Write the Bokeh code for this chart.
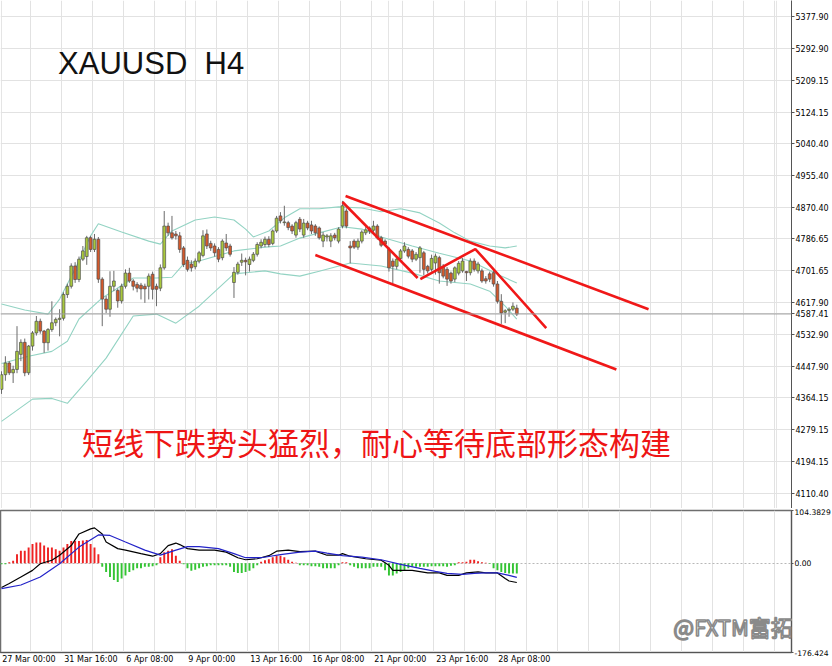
from bokeh.plotting import figure
from bokeh.models import Range1d, FixedTicker, Span, Label, Grid, ColumnDataSource
from bokeh.layouts import column
from bokeh.embed import file_html
from bokeh.resources import INLINE
from bokeh.core.properties import value

# ---------------- data (H4 bars, index 0 = 27 Mar 00:00) ----------------
opens = [4387,4426,4457,4431,4440,4480,4512,4431,4502,4537,
         4568,4542,4511,4546,4564,4573,4576,4639,4661,4715,
         4679,4733,4740,4790,4759,4786,4680,4627,4600,4661,
         4650,4622,4661,4696,4675,4666,4664,4661,4661,4693,
         4661,4656,4710,4821,4803,4800,4795,4763,4730,4720,
         4713,4728,4743,4800,4775,4768,4759,4737,4776,4768,
         4671,4698,4725,4730,4719,4730,4746,4768,4772,4786,
         4775,4808,4848,4830,4830,4821,4797,4839,4797,4829,
         4824,4821,4816,4781,4792,4781,4797,4781,4821,4861,
         4768,4781,4765,4781,4803,4816,4810,4821,4790,4781,
         4759,4728,4714,4735,4755,4759,4755,4733,4737,4750,
         4714,4706,4723,4737,4714,4706,4696,4680,4696,4702,
         4700,4697,4728,4702,4702,4681,4694,4697,4667,4621,
         4592,4597,4600,4603]
highs = [4435,4475,4462,4450,4555,4520,4522,4505,4542,4582,
         4575,4545,4550,4621,4578,4600,4645,4668,4722,4725,
         4740,4768,4795,4795,4800,4792,4685,4635,4701,4702,
         4655,4668,4706,4710,4680,4672,4670,4668,4695,4700,
         4668,4719,4861,4830,4848,4808,4805,4768,4740,4730,
         4735,4755,4810,4812,4782,4775,4765,4786,4800,4774,
         4712,4726,4748,4737,4740,4752,4778,4786,4793,4794,
         4812,4848,4858,4875,4835,4826,4835,4845,4840,4835,
         4835,4826,4820,4805,4800,4802,4803,4818,4888,4868,
         4781,4786,4788,4810,4818,4820,4835,4826,4795,4786,
         4765,4735,4740,4760,4778,4765,4760,4752,4768,4755,
         4718,4745,4748,4742,4720,4712,4700,4714,4728,4736,
         4702,4735,4735,4726,4708,4688,4700,4703,4675,4640,
         4600,4605,4618,4612]
lows = [4375,4410,4425,4404,4430,4462,4422,4425,4490,4530,
        4535,4484,4490,4540,4555,4528,4570,4630,4655,4670,
        4672,4728,4718,4752,4752,4670,4555,4590,4580,4648,
        4604,4615,4655,4670,4650,4645,4626,4617,4626,4626,
        4608,4648,4705,4795,4785,4785,4750,4712,4700,4700,
        4706,4722,4738,4760,4755,4740,4725,4730,4755,4740,
        4630,4692,4715,4690,4700,4725,4740,4762,4765,4765,
        4770,4803,4828,4822,4810,4800,4790,4805,4790,4810,
        4800,4795,4785,4765,4780,4765,4783,4775,4815,4815,
        4722,4760,4758,4775,4797,4800,4805,4785,4765,4768,
        4700,4669,4706,4730,4750,4735,4725,4728,4697,4690,
        4695,4700,4692,4668,4682,4662,4668,4672,4690,4697,
        4675,4690,4700,4695,4670,4668,4672,4660,4615,4561,
        4563,4580,4595,4582]
closes = [4426,4457,4431,4440,4488,4512,4431,4502,4537,4568,
          4542,4511,4546,4564,4573,4576,4639,4661,4715,4679,
          4733,4755,4790,4759,4786,4680,4627,4600,4661,4675,
          4622,4661,4696,4675,4661,4656,4654,4654,4688,4653,
          4653,4710,4821,4803,4790,4795,4759,4719,4706,4710,
          4728,4750,4795,4768,4763,4750,4733,4781,4763,4746,
          4698,4720,4730,4726,4733,4746,4772,4778,4786,4772,
          4808,4842,4835,4832,4817,4808,4830,4813,4829,4816,
          4808,4803,4790,4797,4795,4795,4790,4813,4875,4821,
          4763,4765,4781,4805,4811,4808,4821,4790,4770,4773,
          4710,4714,4733,4755,4768,4741,4733,4746,4763,4706,
          4702,4735,4741,4697,4688,4680,4675,4710,4722,4728,
          4697,4728,4706,4720,4675,4675,4680,4667,4621,4590,
          4596,4600,4608,4587]

# Bollinger bands (read at sample bars)
upper_x = [0,6,12,15,19,23,25,31,38,41,44,50,55,60,63,65,69,73,77,82,87,93,98,103,108,113,117,121,126,130,133]
upper_y = [4614,4598,4587,4627,4707,4795,4827,4805,4781,4773,4808,4837,4845,4837,4813,4792,4808,4843,4867,4867,
           4872,4869,4859,4867,4856,4829,4803,4781,4768,4763,4768]
middle_x = [0,7,13,17,20,26,34,40,44,47,51,60,68,72,77,82,88,93,98,106,113,121,129,133]
middle_y = [4456,4475,4488,4515,4574,4630,4683,4683,4685,4720,4728,4755,4765,4768,4789,4803,4819,4813,4792,4768,
            4749,4728,4688,4670]
lower_x = [0,8,13,17,22,27,34,40,45,51,60,68,72,77,82,90,98,106,113,121,126,130,133]
lower_y = [4302,4361,4363,4350,4409,4470,4582,4587,4563,4608,4694,4702,4694,4688,4701,4723,4715,4696,4675,4667,
           4648,4608,4574]

# MACD
hist = ([-2,-2,2,5,18,25,25,31,38,41,41,35,31,31,28,25,31,38,44,44,44,45,46,38,31,18]
        + [-7,-17,-27,-33,-37,-30,-24,-17,-14,-10,-10,-7,-7,-6,-4]
        + [12,22,25,28,15,5]
        + [-2,-10,-15,-13,-10,-7,-6,-4,-4,-4,-4,-4,-7,-17,-19,-19,-17,-15,-10,-4]
        + [3,6,8,12,15,15,12,7,3,1]
        + [-4]
        + [-4,-4,-6,-6,-7,-10,-10,-10,-10,-4]
        + [2,2]
        + [-4,-7,-10,-10,-10,-10,-7,-7,-7,-14]
        + [-24,-24,-20,-17,-14,-10,-7,-7,-7,-7,-7,-6,-6,-6,-6,-7,-5,-4]
        + [2,2,3,7,7,4,2,1,-1]
        + [-10,-14,-17,-19,-20,-20,-20])
macd_x = [0,2,5,8,10,13,15,18,20,23,24,26,27,30,32,36,39,41,43,45,46,48,51,55,58,61,63,66,69,71,74,77,81,84,87,
          88,90,94,98,100,101,103,106,110,113,115,118,120,123,125,128,130,131,133]
macd_y = [-48,-40,-27,-14,-1,6,16,35,58,68,70,58,42,29,26,19,14,19,35,40,37,29,26,26,22,11,7,9,15,24,26,23,24,16,16,
          19,14,9,6,-4,-14,-14,-14,-19,-19,-24,-24,-19,-17,-19,-19,-30,-35,-38]
signal_x = [0,5,10,15,20,25,28,32,37,41,45,48,51,56,60,63,67,72,77,81,84,88,93,98,103,108,112,115,119,122,125,128,131,133]
signal_y = [-50,-43,-27,-1,32,56,55,42,26,16,26,33,33,29,19,11,11,17,22,24,20,15,12,7,-2,-10,-16,-20,-22,-20,-19,-19,-24,-28]

# hand-drawn trend lines (bar index, price)
chan_upper_x = [88.8, 167.0]
chan_upper_y = [4901, 4600]
chan_lower_x = [81.0, 158.7]
chan_lower_y = [4744, 4440]
zig1_x = [88.0, 107.4]
zig1_y = [4885, 4683]
zig2_x = [108.1, 122.3, 140.6]
zig2_y = [4680, 4760, 4550]

price_ticks = [5377.90, 5292.90, 5209.15, 5124.15, 5040.40, 4955.40, 4870.40, 4786.65, 4701.65,
               4617.90, 4532.90, 4447.90, 4364.15, 4279.15, 4194.15, 4110.40]
last_price = 4587.41
macd_ticks = [104.3829, 0.0, -176.424]
macd_tick_labels = ["104.3829", "0.00", "-176.424"]
date_ticks = [0, 16, 32, 48, 64, 80, 96, 112, 128]
date_labels = ["27 Mar 00:00", "31 Mar 16:00", "6 Apr 08:00", "9 Apr 00:00", "13 Apr 16:00",
               "16 Apr 08:00", "21 Apr 00:00", "23 Apr 16:00", "28 Apr 08:00"]

# ---------------- layout constants ----------------
FW = 791
RB = 41
X0, X1 = -0.26, 203.9
PPB = FW / (X1 - X0)          # pixels per bar
GRID = "#e2e2e2"
AXC = "#555555"
TICKFONT = "DejaVu Sans"
TFS = 8

grid_ticks = [k * 8 - 0.5 for k in range(1, 27)]

# MT4 draws time labels starting at the bar; Bokeh centres them, so shift by half the text width
_CW = {"0": .636, "1": .636, "2": .636, "3": .636, "4": .636, "5": .636, "6": .636, "7": .636, "8": .636,
       "9": .636, " ": .318, ":": .337, "M": .863, "a": .613, "r": .411, "A": .684, "p": .635}
def _half_w_bars(s):
    return sum(_CW.get(ch, .6) for ch in s) * TFS / 2 / PPB
date_tick_pos = [round(b + _half_w_bars(s) + 0.2, 3) for b, s in zip(date_ticks, date_labels)]

x_range = Range1d(X0, X1)

p = figure(frame_width=FW, frame_height=508, x_range=x_range, y_range=Range1d(4070.4, 5420.5),
           output_backend="svg", toolbar_location=None, x_axis_location=None, y_axis_location="right",
           min_border_left=0, min_border_top=0, min_border_bottom=0, min_border_right=RB)
p.outline_line_color = None
axis_ticks = price_ticks + [last_price]
p.yaxis.ticker = FixedTicker(ticks=axis_ticks)
p.yaxis.major_label_overrides = {t: f"{t:.2f}" for t in axis_ticks}
p.yaxis.major_label_text_font = TICKFONT
p.yaxis.major_label_text_font_size = f"{TFS}px"
p.yaxis.major_label_text_color = "#000000"
p.yaxis.axis_line_color = AXC
p.yaxis.major_tick_line_color = AXC
p.yaxis.major_tick_out = 3
p.yaxis.major_tick_in = 0
p.yaxis.minor_tick_line_color = None
p.yaxis.major_label_standoff = 1
p.ygrid.grid_line_color = GRID
p.add_layout(Grid(dimension=0, ticker=FixedTicker(ticks=grid_ticks), grid_line_color=GRID))

# Bollinger bands
BB = "#93d3c3"
p.line(upper_x, upper_y, line_color=BB, line_width=1.1)
p.line(middle_x, middle_y, line_color=BB, line_width=1.1)
p.line(lower_x, lower_y, line_color=BB, line_width=1.1)

# current price line
p.add_layout(Span(location=last_price, dimension="width", line_color="#a0a0a0", line_width=1))

# candles
idx = list(range(len(opens)))
src = ColumnDataSource(dict(
    x=idx, o=opens, h=highs, l=lows, c=closes,
    top=[max(o, c) for o, c in zip(opens, closes)],
    bot=[min(o, c) for o, c in zip(opens, closes)],
    fill=["#a9c83c" if c >= o else "#d4592b" for o, c in zip(opens, closes)],
))
p.segment(x0="x", y0="h", x1="x", y1="l", source=src, line_color="#6a6a6a", line_width=1)
p.vbar(x="x", width=0.72, top="top", bottom="bot", fill_color="fill", line_color="#4d4d4d",
       line_width=0.7, source=src)

# trend lines
RED = "#f01818"
p.line(chan_upper_x, chan_upper_y, line_color=RED, line_width=2.6)
p.line(chan_lower_x, chan_lower_y, line_color=RED, line_width=2.6)
p.line(zig1_x, zig1_y, line_color=RED, line_width=2.6)
p.line(zig2_x, zig2_y, line_color=RED, line_width=2.6)

# texts
p.add_layout(Label(x=14.6, y=5252, text="XAUUSD \u00a0H4", text_font="Liberation Sans", text_font_size="31px",
                   text_color="#111111", text_baseline="middle", text_align="left"))
p.add_layout(Label(x=20.8, y=4249, text="短线下跌势头猛烈，耐心等待底部形态构建", text_font="Noto Sans CJK SC",
                   text_font_size="31px", text_color="#ee1515", text_baseline="middle", text_align="left"))

# ---------------- MACD panel ----------------
m = figure(frame_width=FW, frame_height=142, x_range=x_range, y_range=Range1d(-176.424, 104.3829),
           output_backend="svg", toolbar_location=None, y_axis_location="right",
           min_border_left=0, min_border_top=2, min_border_bottom=0, min_border_right=RB)
m.outline_line_color = "#6e6e6e"
m.outline_line_width = 1.5
m.xaxis.ticker = FixedTicker(ticks=date_tick_pos)
m.xaxis.major_label_overrides = {t: s for t, s in zip(date_tick_pos, date_labels)}
m.xaxis.major_label_text_font = TICKFONT
m.xaxis.major_label_text_font_size = f"{TFS}px"
m.xaxis.major_label_text_color = "#000000"
m.xaxis.axis_line_color = AXC
m.xaxis.major_tick_line_color = None
m.xaxis.major_tick_out = 0
m.xaxis.major_tick_in = 0
m.xaxis.minor_tick_line_color = None
m.xaxis.major_label_standoff = 2
m.xgrid.ticker = FixedTicker(ticks=grid_ticks)
m.xgrid.grid_line_color = GRID
m.yaxis.ticker = FixedTicker(ticks=macd_ticks)
m.yaxis.major_label_overrides = {t: s for t, s in zip(macd_ticks, macd_tick_labels)}
m.yaxis.major_label_text_font = TICKFONT
m.yaxis.major_label_text_font_size = "7.6px"
m.yaxis.major_label_text_color = "#000000"
m.yaxis.axis_line_color = AXC
m.yaxis.major_tick_line_color = AXC
m.yaxis.major_tick_out = 2
m.yaxis.major_tick_in = 0
m.yaxis.minor_tick_line_color = None
m.yaxis.major_label_standoff = 1
m.ygrid.grid_line_color = "#b8b8b8"
m.ygrid.grid_line_dash = "2 2"

hcol = ["#ee2222" if v > 0 else "#33c433" for v in hist]
m.vbar(x=idx, top=hist, bottom=0, width=0.5, fill_color=hcol, line_color=None)
m.line(macd_x, macd_y, line_color="black", line_width=1.2)
m.line(signal_x, signal_y, line_color="#2323c8", line_width=1.2)

m.add_layout(Label(x=173.4, y=-124, text="@FXTM富拓", text_font="Noto Sans CJK SC", text_font_size="22px",
                   text_color="white", text_outline_color="#8a8a8a", text_baseline="middle",
                   text_align="left"))

layout = column(p, m, spacing=0)
open("out.html", "w").write(file_html(layout, INLINE))
